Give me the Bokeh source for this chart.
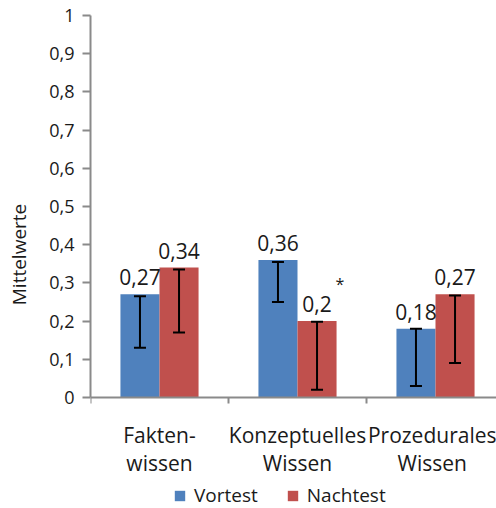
import numpy as np
from bokeh.plotting import figure
from bokeh.models import (Range1d, FixedTicker, CustomJSTickFormatter, ColumnDataSource,
                          Whisker, TeeHead, Legend, LegendItem)
from bokeh.core.properties import value
from bokeh.embed import file_html
from bokeh.resources import INLINE

categories = ["Fakten-\nwissen", "Konzeptuelles\nWissen", "Prozedurales\nWissen"]
vortest = [0.27, 0.36, 0.18]
nachtest = [0.34, 0.2, 0.27]
vortest_err_low = [0.13, 0.25, 0.03]
vortest_err_high = [0.265, 0.355, 0.18]
nachtest_err_low = [0.17, 0.02, 0.09]
nachtest_err_high = [0.335, 0.198, 0.267]
y_ticks = [0, 0.1, 0.2, 0.3, 0.4, 0.5, 0.6, 0.7, 0.8, 0.9, 1.0]
series_names = ["Vortest", "Nachtest"]
significant = [False, True, False]  # Nachtest marked with *

FONT = "Open Sans"
TXT = "#1a1a1a"
AX = "#8a8a8a"
BLUE = "#4F81BD"
RED = "#C0504D"
BW = 0.283

def fmt(v):
    return ("%g" % v).replace(".", ",")

idx = np.arange(len(categories)) + 0.5

p = figure(frame_width=406, frame_height=508, output_backend="svg", toolbar_location=None,
           x_range=Range1d(0, 2.942), y_range=Range1d(-0.2906, 1.0393),
           min_border_left=90, min_border_right=0, min_border_top=0, min_border_bottom=0)
p.outline_line_color = None
p.xgrid.visible = False
p.ygrid.visible = False
p.background_fill_color = "white"

src_v = ColumnDataSource(dict(x=idx - BW / 2, top=vortest, lo=vortest_err_low, hi=vortest_err_high,
                              lab=[fmt(v) for v in vortest]))
src_n = ColumnDataSource(dict(x=idx + BW / 2, top=nachtest, lo=nachtest_err_low, hi=nachtest_err_high,
                              lab=[fmt(v) for v in nachtest]))

rv = p.vbar(x="x", top="top", width=BW, bottom=0, source=src_v, fill_color=BLUE, line_color=None)
rn = p.vbar(x="x", top="top", width=BW, bottom=0, source=src_n, fill_color=RED, line_color=None)

for src in (src_v, src_n):
    w = Whisker(source=src, base="x", lower="lo", upper="hi", dimension="height", level="annotation",
                line_color="black", line_width=2,
                lower_head=TeeHead(size=12, line_width=2, line_color="black"),
                upper_head=TeeHead(size=12, line_width=2, line_color="black"))
    p.add_layout(w)
    p.text(x="x", y="top", text="lab", source=src, text_font=value(FONT), text_font_size="21px",
           text_color=TXT, text_align="center", text_baseline="middle", y_offset=-17)

sig_x = [x + BW / 2 for x, s in zip(idx, significant) if s]
sig_y = [v for v, s in zip(nachtest, significant) if s]
p.text(x=sig_x, y=sig_y, text=["*"] * len(sig_x), text_font=value(FONT), text_font_size="16px",
       text_color=TXT, text_align="center", text_baseline="middle", x_offset=23, y_offset=-37)

# y axis
ya = p.yaxis[0]
ya.ticker = FixedTicker(ticks=y_ticks, minor_ticks=[])
ya.formatter = CustomJSTickFormatter(code="return tick.toFixed(1).replace('.', ',').replace(/,0$/, '');")
ya.bounds = (0, 1)
ya.axis_line_color = AX
ya.axis_line_width = 2
ya.major_tick_line_color = AX
ya.major_tick_line_width = 2
ya.major_tick_out = 8
ya.major_tick_in = 0
ya.major_label_standoff = 8
ya.major_label_text_font = FONT
ya.major_label_text_font_size = "18px"
ya.major_label_text_color = TXT
ya.axis_label = "Mittelwerte"
ya.axis_label_text_font = FONT
ya.axis_label_text_font_size = "19px"
ya.axis_label_text_font_style = "normal"
ya.axis_label_text_color = TXT
ya.axis_label_standoff = 14

# x axis (drawn at y = 0)
xa = p.xaxis[0]
xa.fixed_location = 0
xa.ticker = FixedTicker(ticks=list(idx), minor_ticks=[0, 1, 2, 3])
xa.formatter = CustomJSTickFormatter(args=dict(labels=categories), code="return labels[Math.floor(tick)];")
xa.axis_line_color = AX
xa.axis_line_width = 2
xa.major_tick_out = 0
xa.major_tick_in = 0
xa.minor_tick_line_color = AX
xa.minor_tick_line_width = 2
xa.minor_tick_out = 6
xa.minor_tick_in = 0
xa.major_label_standoff = 18
xa.major_label_text_font = FONT
xa.major_label_text_font_size = "21px"
xa.major_label_text_color = TXT
xa.major_label_text_line_height = 1.0

legend = Legend(items=[LegendItem(label=series_names[0], renderers=[rv]),
                       LegendItem(label=series_names[1], renderers=[rn])],
                orientation="horizontal", location=(83, 0), border_line_color=None,
                background_fill_alpha=0,
                label_text_font=FONT, label_text_font_size="19px", label_text_color=TXT,
                glyph_width=13, glyph_height=13, label_standoff=8, spacing=28,
                padding=0, margin=0)
p.add_layout(legend, "center")

open("out.html", "w").write(file_html(p, INLINE))
